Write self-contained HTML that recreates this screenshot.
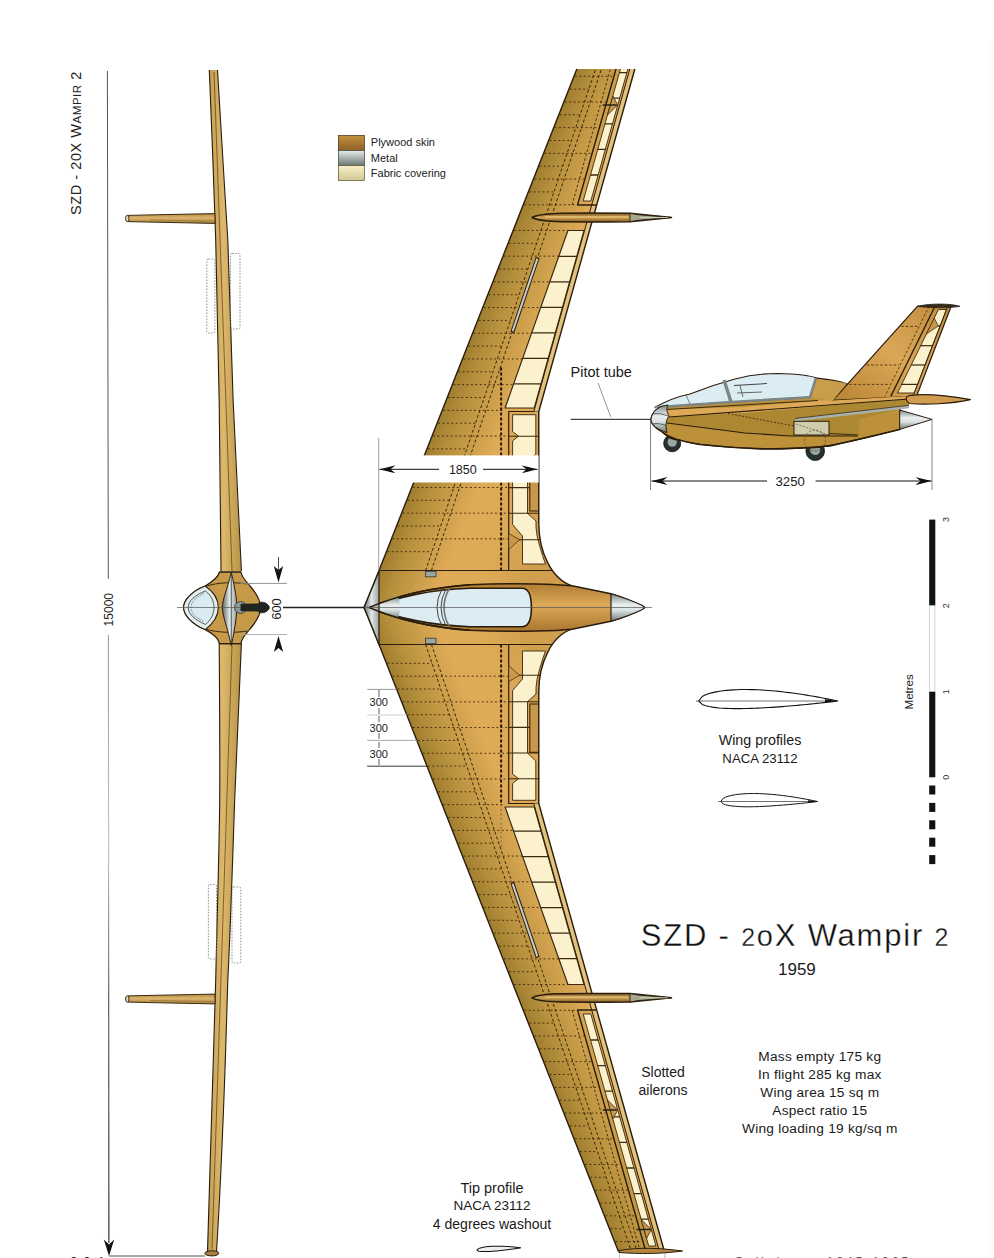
<!DOCTYPE html>
<html><head><meta charset="utf-8"><style>
html,body{margin:0;padding:0;background:#fff;width:994px;height:1258px;overflow:hidden}
svg{display:block;font-family:"Liberation Sans", sans-serif}
</style></head><body>
<svg width="994" height="1258" viewBox="0 0 994 1258" font-family='"Liberation Sans", sans-serif'><defs>
<linearGradient id="gU" gradientUnits="userSpaceOnUse" x1="0" y1="0" x2="150" y2="0" gradientTransform="translate(379,571) skewX(-21.5)">
 <stop offset="0" stop-color="#a07e30"/><stop offset="0.15" stop-color="#b8923e"/><stop offset="0.45" stop-color="#dfab58"/><stop offset="0.75" stop-color="#dca955"/><stop offset="1" stop-color="#d09f4e"/>
</linearGradient>
<linearGradient id="gL" gradientUnits="userSpaceOnUse" x1="0" y1="0" x2="150" y2="0" gradientTransform="translate(379,644) skewX(21.5)">
 <stop offset="0" stop-color="#a07e30"/><stop offset="0.15" stop-color="#b8923e"/><stop offset="0.45" stop-color="#dfab58"/><stop offset="0.75" stop-color="#dca955"/><stop offset="1" stop-color="#d09f4e"/>
</linearGradient>
<linearGradient id="gPod" x1="0" y1="0" x2="0" y2="1">
 <stop offset="0" stop-color="#b07c32"/><stop offset="0.45" stop-color="#dcaa5a"/><stop offset="1" stop-color="#a9762e"/>
</linearGradient>
<linearGradient id="gCone" x1="0" y1="0" x2="0" y2="1">
 <stop offset="0" stop-color="#7f8a89"/><stop offset="0.4" stop-color="#e9eeee"/><stop offset="0.6" stop-color="#dde3e3"/><stop offset="1" stop-color="#6f7a79"/>
</linearGradient>
<linearGradient id="gConeH" x1="0" y1="0" x2="1" y2="0">
 <stop offset="0" stop-color="#5d6867"/><stop offset="0.5" stop-color="#e2e8e8"/><stop offset="1" stop-color="#9aa4a3"/>
</linearGradient>
<linearGradient id="gFrontW" x1="0" y1="0" x2="1" y2="0">
 <stop offset="0" stop-color="#c4a054"/><stop offset="0.45" stop-color="#dcb86c"/><stop offset="1" stop-color="#b89446"/>
</linearGradient>
<linearGradient id="gFrontFin" x1="0" y1="0" x2="0" y2="1">
 <stop offset="0" stop-color="#b08a44"/><stop offset="0.45" stop-color="#dcb46c"/><stop offset="1" stop-color="#a8803c"/>
</linearGradient>
<linearGradient id="gFin" x1="0" y1="0" x2="0" y2="1">
 <stop offset="0" stop-color="#7e5a22"/><stop offset="0.5" stop-color="#d2a456"/><stop offset="1" stop-color="#7e5a22"/>
</linearGradient>
<linearGradient id="gSide" x1="0" y1="0" x2="0" y2="1">
 <stop offset="0" stop-color="#c99548"/><stop offset="0.5" stop-color="#d7a354"/><stop offset="1" stop-color="#b07d34"/>
</linearGradient>
<linearGradient id="gTail" x1="0" y1="1" x2="1" y2="0">
 <stop offset="0" stop-color="#b88434"/><stop offset="0.5" stop-color="#daa758"/><stop offset="1" stop-color="#c08c3e"/>
</linearGradient>
<linearGradient id="lgPly" x1="0" y1="0" x2="0" y2="1"><stop offset="0" stop-color="#c48e3e"/><stop offset="1" stop-color="#8d6226"/></linearGradient>
<linearGradient id="lgMet" x1="0" y1="0" x2="0" y2="1"><stop offset="0" stop-color="#e8eeee"/><stop offset="1" stop-color="#6a7673"/></linearGradient>
<linearGradient id="lgFab" x1="0" y1="0" x2="0" y2="1"><stop offset="0" stop-color="#f7f0cb"/><stop offset="1" stop-color="#d2c690"/></linearGradient>
<marker id="arr" viewBox="0 0 16 8" refX="16" refY="4" markerWidth="16" markerHeight="8" markerUnits="userSpaceOnUse" orient="auto">
 <path d="M0,0 L16,4 L0,8 L5,4 Z" fill="#111"/>
</marker>
<clipPath id="cU"><path d="M364,607.5 L379,570.5 L576.84,69 L634.84,69 L538.8,411.5 L538.8,523.5 C538.8,552.5 552,579.5 572,585.8 L572,607.5 L364,607.5 Z"/></clipPath><clipPath id="cL"><path d="M364,607.5 L379,644.5 L618.26,1251 L664.28,1251 L538.8,803.5 L538.8,691.5 C538.8,662.5 552,635.5 572,629.2 L572,607.5 L364,607.5 Z"/></clipPath><linearGradient id="gDim" gradientUnits="userSpaceOnUse" x1="0" y1="635" x2="0" y2="1243"><stop offset="0" stop-color="#9a9a9a"/><stop offset="0.35" stop-color="#c4c4c4"/><stop offset="0.6" stop-color="#555"/><stop offset="1" stop-color="#222"/></linearGradient></defs><path d="M364,607.5 L379,570.5 L576.84,69 L634.84,69 L538.8,411.5 L538.8,523.5 C538.8,552.5 552,579.5 572,585.8 L572,607.5 L364,607.5 Z" fill="url(#gU)" stroke="none" stroke-width="1" stroke-linejoin="round" />
<g clip-path="url(#cU)">
<line x1="387.42" y1="551.7" x2="432" y2="551.7" stroke="#3e2408" stroke-width="0.9" stroke-dasharray="1.9,2.5" />
<line x1="392.49" y1="538.85" x2="508.7" y2="538.85" stroke="#3e2408" stroke-width="0.9" stroke-dasharray="1.9,2.5" />
<line x1="397.56" y1="526" x2="440.72" y2="526" stroke="#3e2408" stroke-width="0.9" stroke-dasharray="1.9,2.5" />
<line x1="402.62" y1="513.15" x2="508.7" y2="513.15" stroke="#3e2408" stroke-width="0.9" stroke-dasharray="1.9,2.5" />
<line x1="407.69" y1="500.3" x2="449.43" y2="500.3" stroke="#3e2408" stroke-width="0.9" stroke-dasharray="1.9,2.5" />
<line x1="412.76" y1="487.45" x2="508.7" y2="487.45" stroke="#3e2408" stroke-width="0.9" stroke-dasharray="1.9,2.5" />
<line x1="417.83" y1="474.6" x2="458.14" y2="474.6" stroke="#3e2408" stroke-width="0.9" stroke-dasharray="1.9,2.5" />
<line x1="422.9" y1="461.75" x2="508.7" y2="461.75" stroke="#3e2408" stroke-width="0.9" stroke-dasharray="1.9,2.5" />
<line x1="427.97" y1="448.9" x2="466.85" y2="448.9" stroke="#3e2408" stroke-width="0.9" stroke-dasharray="1.9,2.5" />
<line x1="433.04" y1="436.05" x2="508.7" y2="436.05" stroke="#3e2408" stroke-width="0.9" stroke-dasharray="1.9,2.5" />
<line x1="438.11" y1="423.2" x2="475.57" y2="423.2" stroke="#3e2408" stroke-width="0.9" stroke-dasharray="1.9,2.5" />
<line x1="443.18" y1="410.35" x2="504.27" y2="410.35" stroke="#3e2408" stroke-width="0.9" stroke-dasharray="1.9,2.5" />
<line x1="448.25" y1="397.5" x2="484.28" y2="397.5" stroke="#3e2408" stroke-width="0.9" stroke-dasharray="1.9,2.5" />
<line x1="453.32" y1="384.65" x2="513.37" y2="384.65" stroke="#3e2408" stroke-width="0.9" stroke-dasharray="1.9,2.5" />
<line x1="458.39" y1="371.8" x2="492.99" y2="371.8" stroke="#3e2408" stroke-width="0.9" stroke-dasharray="1.9,2.5" />
<line x1="463.46" y1="358.95" x2="522.46" y2="358.95" stroke="#3e2408" stroke-width="0.9" stroke-dasharray="1.9,2.5" />
<line x1="468.53" y1="346.1" x2="501.7" y2="346.1" stroke="#3e2408" stroke-width="0.9" stroke-dasharray="1.9,2.5" />
<line x1="473.6" y1="333.25" x2="531.56" y2="333.25" stroke="#3e2408" stroke-width="0.9" stroke-dasharray="1.9,2.5" />
<line x1="478.66" y1="320.4" x2="510.41" y2="320.4" stroke="#3e2408" stroke-width="0.9" stroke-dasharray="1.9,2.5" />
<line x1="483.73" y1="307.55" x2="540.66" y2="307.55" stroke="#3e2408" stroke-width="0.9" stroke-dasharray="1.9,2.5" />
<line x1="488.8" y1="294.7" x2="519.13" y2="294.7" stroke="#3e2408" stroke-width="0.9" stroke-dasharray="1.9,2.5" />
<line x1="493.87" y1="281.85" x2="549.76" y2="281.85" stroke="#3e2408" stroke-width="0.9" stroke-dasharray="1.9,2.5" />
<line x1="498.94" y1="269" x2="527.84" y2="269" stroke="#3e2408" stroke-width="0.9" stroke-dasharray="1.9,2.5" />
<line x1="504.01" y1="256.15" x2="558.85" y2="256.15" stroke="#3e2408" stroke-width="0.9" stroke-dasharray="1.9,2.5" />
<line x1="509.08" y1="243.3" x2="536.55" y2="243.3" stroke="#3e2408" stroke-width="0.9" stroke-dasharray="1.9,2.5" />
<line x1="514.15" y1="230.45" x2="567.95" y2="230.45" stroke="#3e2408" stroke-width="0.9" stroke-dasharray="1.9,2.5" />
<line x1="524.29" y1="204.75" x2="576.61" y2="204.75" stroke="#3e2408" stroke-width="0.9" stroke-dasharray="1.9,2.5" />
<line x1="529.36" y1="191.9" x2="553.98" y2="191.9" stroke="#3e2408" stroke-width="0.9" stroke-dasharray="1.9,2.5" />
<line x1="534.43" y1="179.05" x2="583.87" y2="179.05" stroke="#3e2408" stroke-width="0.9" stroke-dasharray="1.9,2.5" />
<line x1="539.5" y1="166.2" x2="562.69" y2="166.2" stroke="#3e2408" stroke-width="0.9" stroke-dasharray="1.9,2.5" />
<line x1="544.57" y1="153.35" x2="591.13" y2="153.35" stroke="#3e2408" stroke-width="0.9" stroke-dasharray="1.9,2.5" />
<line x1="549.64" y1="140.5" x2="571.4" y2="140.5" stroke="#3e2408" stroke-width="0.9" stroke-dasharray="1.9,2.5" />
<line x1="554.7" y1="127.65" x2="598.39" y2="127.65" stroke="#3e2408" stroke-width="0.9" stroke-dasharray="1.9,2.5" />
<line x1="559.77" y1="114.8" x2="580.11" y2="114.8" stroke="#3e2408" stroke-width="0.9" stroke-dasharray="1.9,2.5" />
<line x1="564.84" y1="101.95" x2="605.65" y2="101.95" stroke="#3e2408" stroke-width="0.9" stroke-dasharray="1.9,2.5" />
<line x1="569.91" y1="89.1" x2="588.83" y2="89.1" stroke="#3e2408" stroke-width="0.9" stroke-dasharray="1.9,2.5" />
<line x1="574.98" y1="76.25" x2="612.91" y2="76.25" stroke="#3e2408" stroke-width="0.9" stroke-dasharray="1.9,2.5" />
<line x1="425.63" y1="570.5" x2="595.64" y2="69" stroke="#3e2408" stroke-width="1" stroke-dasharray="3,2.2" />
<line x1="431.43" y1="570.5" x2="601.44" y2="69" stroke="#3e2408" stroke-width="1" stroke-dasharray="3,2.2" />
<line x1="501.1" y1="570.5" x2="501.1" y2="365.5" stroke="#2a1606" stroke-width="2" stroke-dasharray="3,2" />
<path d="M508.7,570.5 L508.7,411.5 L538.8,411.5 L538.8,523.5" fill="none" stroke="#2b1d0c" stroke-width="1.2" stroke-linejoin="round" />
<polygon points="522.5,564 545.5,564 542.5,555.5 539.5,545.5 537,535.5 536,527.5 536,521 527.5,513.3 527.5,462 535.8,454 535.8,414.7 512.6,414.7 512.6,431.5 518.5,436.3 512.6,441 512.6,524.5 522.5,536" fill="#fbf1cc" stroke="#3a2810" stroke-width="0.9" stroke-linejoin="round" />
<line x1="508.7" y1="539.7" x2="542" y2="539.7" stroke="#3a2810" stroke-width="1.1" />
<line x1="508.7" y1="513.3" x2="538.8" y2="513.3" stroke="#3a2810" stroke-width="1.1" />
<line x1="508.7" y1="487.6" x2="538.8" y2="487.6" stroke="#3a2810" stroke-width="1.1" />
<line x1="508.7" y1="462" x2="538.8" y2="462" stroke="#3a2810" stroke-width="1.1" />
<line x1="508.7" y1="436.3" x2="538.8" y2="436.3" stroke="#3a2810" stroke-width="1.1" />
<polygon points="508.7,549.5 519.5,539.7 508.7,533.5" fill="#c8984a" stroke="#3a2810" stroke-width="0.7" stroke-linejoin="round" />
<rect x="529.8" y="462.7" width="9.8" height="48.3" fill="#c8984a" stroke="#2b1d0c" stroke-width="1"/>
<polygon points="505.1,408 534.28,408 584.05,230.5 567.94,230.5" fill="#fbf1cc" stroke="#3a2810" stroke-width="1.2" stroke-linejoin="round" />
<line x1="513.67" y1="383.8" x2="541.07" y2="383.8" stroke="#3a2810" stroke-width="1.3" />
<line x1="522.69" y1="358.3" x2="548.22" y2="358.3" stroke="#3a2810" stroke-width="1.3" />
<line x1="531.72" y1="332.8" x2="555.37" y2="332.8" stroke="#3a2810" stroke-width="1.3" />
<line x1="540.75" y1="307.3" x2="562.52" y2="307.3" stroke="#3a2810" stroke-width="1.3" />
<line x1="549.77" y1="281.8" x2="569.67" y2="281.8" stroke="#3a2810" stroke-width="1.3" />
<line x1="558.8" y1="256.3" x2="576.82" y2="256.3" stroke="#3a2810" stroke-width="1.3" />
<polygon points="533.8,411.5 538.8,411.5 634.84,69 629.84,69" fill="#e2c27c" stroke="none" stroke-width="1" stroke-linejoin="round" />
<line x1="533.8" y1="411.5" x2="629.84" y2="69" stroke="#2b1d0c" stroke-width="1" />
<line x1="512.3" y1="332.3" x2="537.7" y2="257.6" stroke="#2b1d0c" stroke-width="4" stroke-linecap="butt"/>
<line x1="512.6" y1="331.3" x2="537.4" y2="258.6" stroke="#c9cfcf" stroke-width="2"/>
<path d="M615.96,69 L577.54,205 L596.7,205" fill="none" stroke="#2b1d0c" stroke-width="1.4" stroke-linejoin="round" />
<line x1="572.04" y1="205" x2="610.46" y2="69" stroke="#3e2408" stroke-width="0.9" stroke-dasharray="2.6,2" />
<polygon points="583.17,201 590.82,201 629.24,64 621.87,64" fill="#fbf1cc" stroke="#3a2810" stroke-width="0.9" stroke-linejoin="round" />
<line x1="590.52" y1="175" x2="598.11" y2="175" stroke="#3a2810" stroke-width="1.3" />
<line x1="597.75" y1="149.4" x2="605.29" y2="149.4" stroke="#3a2810" stroke-width="1.3" />
<line x1="604.98" y1="123.8" x2="612.47" y2="123.8" stroke="#3a2810" stroke-width="1.3" />
<line x1="612.21" y1="98.2" x2="619.65" y2="98.2" stroke="#3a2810" stroke-width="1.3" />
<line x1="619.44" y1="72.6" x2="626.83" y2="72.6" stroke="#3a2810" stroke-width="1.3" />
<polygon points="607.47,115 617.74,105 612.83,96" fill="#c99a4a" stroke="#3a2810" stroke-width="0.8" stroke-linejoin="round" />
<line x1="602.79" y1="105" x2="616.79" y2="105" stroke="#222" stroke-width="1.3" />
<line x1="379" y1="570.5" x2="556" y2="570.5" stroke="#2b1d0c" stroke-width="1.2" />
<rect x="425.4" y="571.3" width="10.6" height="5.5" fill="#9aa6a4" stroke="#3a3a30" stroke-width="0.8"/>
</g>
<path d="M364,607.5 L379,570.5 L576.84,69 M634.84,69 L538.8,411.5 L538.8,523.5 C538.8,552.5 552,579.5 572,585.8" fill="none" stroke="#2b1d0c" stroke-width="1.4" stroke-linejoin="round" />
<path d="M532,217.5 C540,212.9 555,212.7 630,213.3 L671.5,217.5 L630,221.7 C555,222.3 540,222.1 532,217.5 Z" fill="url(#gFin)" stroke="#2b1d0c" stroke-width="1.5" stroke-linejoin="round" />
<path d="M630,213.3 L638,214.7 L671.5,217.5 L638,220.3 L630,221.7 Z" fill="#a6a88e" stroke="#2b1d0c" stroke-width="0.9" stroke-linejoin="round" />
<line x1="545" y1="216.9" x2="628" y2="216.9" stroke="#e6c37e" stroke-width="1.2" />
<line x1="640" y1="217.5" x2="668" y2="217.5" stroke="#d8dccc" stroke-width="0.8" />
<path d="M364,607.5 L379,644.5 L618.26,1251 L664.28,1251 L538.8,803.5 L538.8,691.5 C538.8,662.5 552,635.5 572,629.2 L572,607.5 L364,607.5 Z" fill="url(#gL)" stroke="none" stroke-width="1" stroke-linejoin="round" />
<g clip-path="url(#cL)">
<line x1="387.42" y1="663.3" x2="432" y2="663.3" stroke="#3e2408" stroke-width="0.9" stroke-dasharray="1.9,2.5" />
<line x1="392.49" y1="676.15" x2="508.7" y2="676.15" stroke="#3e2408" stroke-width="0.9" stroke-dasharray="1.9,2.5" />
<line x1="397.56" y1="689" x2="440.72" y2="689" stroke="#3e2408" stroke-width="0.9" stroke-dasharray="1.9,2.5" />
<line x1="402.62" y1="701.85" x2="508.7" y2="701.85" stroke="#3e2408" stroke-width="0.9" stroke-dasharray="1.9,2.5" />
<line x1="407.69" y1="714.7" x2="449.43" y2="714.7" stroke="#3e2408" stroke-width="0.9" stroke-dasharray="1.9,2.5" />
<line x1="412.76" y1="727.55" x2="508.7" y2="727.55" stroke="#3e2408" stroke-width="0.9" stroke-dasharray="1.9,2.5" />
<line x1="417.83" y1="740.4" x2="458.14" y2="740.4" stroke="#3e2408" stroke-width="0.9" stroke-dasharray="1.9,2.5" />
<line x1="422.9" y1="753.25" x2="508.7" y2="753.25" stroke="#3e2408" stroke-width="0.9" stroke-dasharray="1.9,2.5" />
<line x1="427.97" y1="766.1" x2="466.85" y2="766.1" stroke="#3e2408" stroke-width="0.9" stroke-dasharray="1.9,2.5" />
<line x1="433.04" y1="778.95" x2="508.7" y2="778.95" stroke="#3e2408" stroke-width="0.9" stroke-dasharray="1.9,2.5" />
<line x1="438.11" y1="791.8" x2="475.57" y2="791.8" stroke="#3e2408" stroke-width="0.9" stroke-dasharray="1.9,2.5" />
<line x1="443.18" y1="804.65" x2="504.27" y2="804.65" stroke="#3e2408" stroke-width="0.9" stroke-dasharray="1.9,2.5" />
<line x1="448.25" y1="817.5" x2="484.28" y2="817.5" stroke="#3e2408" stroke-width="0.9" stroke-dasharray="1.9,2.5" />
<line x1="453.32" y1="830.35" x2="513.37" y2="830.35" stroke="#3e2408" stroke-width="0.9" stroke-dasharray="1.9,2.5" />
<line x1="458.39" y1="843.2" x2="492.99" y2="843.2" stroke="#3e2408" stroke-width="0.9" stroke-dasharray="1.9,2.5" />
<line x1="463.46" y1="856.05" x2="522.46" y2="856.05" stroke="#3e2408" stroke-width="0.9" stroke-dasharray="1.9,2.5" />
<line x1="468.53" y1="868.9" x2="501.7" y2="868.9" stroke="#3e2408" stroke-width="0.9" stroke-dasharray="1.9,2.5" />
<line x1="473.6" y1="881.75" x2="531.56" y2="881.75" stroke="#3e2408" stroke-width="0.9" stroke-dasharray="1.9,2.5" />
<line x1="478.66" y1="894.6" x2="510.41" y2="894.6" stroke="#3e2408" stroke-width="0.9" stroke-dasharray="1.9,2.5" />
<line x1="483.73" y1="907.45" x2="540.66" y2="907.45" stroke="#3e2408" stroke-width="0.9" stroke-dasharray="1.9,2.5" />
<line x1="488.8" y1="920.3" x2="519.13" y2="920.3" stroke="#3e2408" stroke-width="0.9" stroke-dasharray="1.9,2.5" />
<line x1="493.87" y1="933.15" x2="549.76" y2="933.15" stroke="#3e2408" stroke-width="0.9" stroke-dasharray="1.9,2.5" />
<line x1="498.94" y1="946" x2="527.84" y2="946" stroke="#3e2408" stroke-width="0.9" stroke-dasharray="1.9,2.5" />
<line x1="504.01" y1="958.85" x2="558.85" y2="958.85" stroke="#3e2408" stroke-width="0.9" stroke-dasharray="1.9,2.5" />
<line x1="509.08" y1="971.7" x2="536.55" y2="971.7" stroke="#3e2408" stroke-width="0.9" stroke-dasharray="1.9,2.5" />
<line x1="514.15" y1="984.55" x2="567.95" y2="984.55" stroke="#3e2408" stroke-width="0.9" stroke-dasharray="1.9,2.5" />
<line x1="524.29" y1="1010.25" x2="576.61" y2="1010.25" stroke="#3e2408" stroke-width="0.9" stroke-dasharray="1.9,2.5" />
<line x1="529.36" y1="1023.1" x2="553.98" y2="1023.1" stroke="#3e2408" stroke-width="0.9" stroke-dasharray="1.9,2.5" />
<line x1="534.43" y1="1035.95" x2="583.87" y2="1035.95" stroke="#3e2408" stroke-width="0.9" stroke-dasharray="1.9,2.5" />
<line x1="539.5" y1="1048.8" x2="562.69" y2="1048.8" stroke="#3e2408" stroke-width="0.9" stroke-dasharray="1.9,2.5" />
<line x1="544.57" y1="1061.65" x2="591.13" y2="1061.65" stroke="#3e2408" stroke-width="0.9" stroke-dasharray="1.9,2.5" />
<line x1="549.64" y1="1074.5" x2="571.4" y2="1074.5" stroke="#3e2408" stroke-width="0.9" stroke-dasharray="1.9,2.5" />
<line x1="554.7" y1="1087.35" x2="598.39" y2="1087.35" stroke="#3e2408" stroke-width="0.9" stroke-dasharray="1.9,2.5" />
<line x1="559.77" y1="1100.2" x2="580.11" y2="1100.2" stroke="#3e2408" stroke-width="0.9" stroke-dasharray="1.9,2.5" />
<line x1="564.84" y1="1113.05" x2="605.65" y2="1113.05" stroke="#3e2408" stroke-width="0.9" stroke-dasharray="1.9,2.5" />
<line x1="569.91" y1="1125.9" x2="588.83" y2="1125.9" stroke="#3e2408" stroke-width="0.9" stroke-dasharray="1.9,2.5" />
<line x1="574.98" y1="1138.75" x2="612.91" y2="1138.75" stroke="#3e2408" stroke-width="0.9" stroke-dasharray="1.9,2.5" />
<line x1="580.05" y1="1151.6" x2="597.54" y2="1151.6" stroke="#3e2408" stroke-width="0.9" stroke-dasharray="1.9,2.5" />
<line x1="585.12" y1="1164.45" x2="620.17" y2="1164.45" stroke="#3e2408" stroke-width="0.9" stroke-dasharray="1.9,2.5" />
<line x1="590.19" y1="1177.3" x2="606.25" y2="1177.3" stroke="#3e2408" stroke-width="0.9" stroke-dasharray="1.9,2.5" />
<line x1="595.26" y1="1190.15" x2="627.43" y2="1190.15" stroke="#3e2408" stroke-width="0.9" stroke-dasharray="1.9,2.5" />
<line x1="600.33" y1="1203" x2="614.96" y2="1203" stroke="#3e2408" stroke-width="0.9" stroke-dasharray="1.9,2.5" />
<line x1="605.4" y1="1215.85" x2="634.69" y2="1215.85" stroke="#3e2408" stroke-width="0.9" stroke-dasharray="1.9,2.5" />
<line x1="610.47" y1="1228.7" x2="623.67" y2="1228.7" stroke="#3e2408" stroke-width="0.9" stroke-dasharray="1.9,2.5" />
<line x1="615.54" y1="1241.55" x2="641.95" y2="1241.55" stroke="#3e2408" stroke-width="0.9" stroke-dasharray="1.9,2.5" />
<line x1="425.63" y1="644.5" x2="631.23" y2="1251" stroke="#3e2408" stroke-width="1" stroke-dasharray="3,2.2" />
<line x1="431.43" y1="644.5" x2="637.03" y2="1251" stroke="#3e2408" stroke-width="1" stroke-dasharray="3,2.2" />
<line x1="501.1" y1="644.5" x2="501.1" y2="804.5" stroke="#2a1606" stroke-width="2" stroke-dasharray="3,2" />
<line x1="501.1" y1="804.5" x2="501.1" y2="849.5" stroke="#7a5a2a" stroke-width="0.9" stroke-dasharray="2,2.5" />
<path d="M508.7,644.5 L508.7,803.5 L538.8,803.5 L538.8,691.5" fill="none" stroke="#2b1d0c" stroke-width="1.2" stroke-linejoin="round" />
<polygon points="522.5,651 545.5,651 542.5,659.5 539.5,669.5 537,679.5 536,687.5 536,694 527.5,701.7 527.5,753 535.8,761 535.8,800.3 512.6,800.3 512.6,783.5 518.5,778.7 512.6,774 512.6,690.5 522.5,679" fill="#fbf1cc" stroke="#3a2810" stroke-width="0.9" stroke-linejoin="round" />
<line x1="508.7" y1="675.3" x2="542" y2="675.3" stroke="#3a2810" stroke-width="1.1" />
<line x1="508.7" y1="701.7" x2="538.8" y2="701.7" stroke="#3a2810" stroke-width="1.1" />
<line x1="508.7" y1="727.4" x2="538.8" y2="727.4" stroke="#3a2810" stroke-width="1.1" />
<line x1="508.7" y1="753" x2="538.8" y2="753" stroke="#3a2810" stroke-width="1.1" />
<line x1="508.7" y1="778.7" x2="538.8" y2="778.7" stroke="#3a2810" stroke-width="1.1" />
<polygon points="508.7,665.5 519.5,675.3 508.7,681.5" fill="#c8984a" stroke="#3a2810" stroke-width="0.7" stroke-linejoin="round" />
<rect x="529.8" y="704" width="9.8" height="48.3" fill="#c8984a" stroke="#2b1d0c" stroke-width="1"/>
<polygon points="505.1,807 534.28,807 584.05,984.5 567.94,984.5" fill="#fbf1cc" stroke="#3a2810" stroke-width="1.2" stroke-linejoin="round" />
<line x1="513.67" y1="831.2" x2="541.07" y2="831.2" stroke="#3a2810" stroke-width="1.3" />
<line x1="522.69" y1="856.7" x2="548.22" y2="856.7" stroke="#3a2810" stroke-width="1.3" />
<line x1="531.72" y1="882.2" x2="555.37" y2="882.2" stroke="#3a2810" stroke-width="1.3" />
<line x1="540.75" y1="907.7" x2="562.52" y2="907.7" stroke="#3a2810" stroke-width="1.3" />
<line x1="549.77" y1="933.2" x2="569.67" y2="933.2" stroke="#3a2810" stroke-width="1.3" />
<line x1="558.8" y1="958.7" x2="576.82" y2="958.7" stroke="#3a2810" stroke-width="1.3" />
<polygon points="533.8,803.5 538.8,803.5 664.28,1251 659.28,1251" fill="#e2c27c" stroke="none" stroke-width="1" stroke-linejoin="round" />
<line x1="533.8" y1="803.5" x2="659.28" y2="1251" stroke="#2b1d0c" stroke-width="1" />
<line x1="512.3" y1="882.7" x2="537.7" y2="957.4" stroke="#2b1d0c" stroke-width="4" stroke-linecap="butt"/>
<line x1="512.6" y1="883.7" x2="537.4" y2="956.4" stroke="#c9cfcf" stroke-width="2"/>
<path d="M645.62,1251 L577.54,1010 L596.7,1010" fill="none" stroke="#2b1d0c" stroke-width="1.4" stroke-linejoin="round" />
<line x1="572.04" y1="1010" x2="640.12" y2="1251" stroke="#3e2408" stroke-width="0.9" stroke-dasharray="2.6,2" />
<polygon points="583.17,1014 590.82,1014 655.88,1246 648.71,1246" fill="#fbf1cc" stroke="#3a2810" stroke-width="0.9" stroke-linejoin="round" />
<line x1="590.52" y1="1040" x2="598.11" y2="1040" stroke="#3a2810" stroke-width="1.3" />
<line x1="597.75" y1="1065.6" x2="605.29" y2="1065.6" stroke="#3a2810" stroke-width="1.3" />
<line x1="604.98" y1="1091.2" x2="612.47" y2="1091.2" stroke="#3a2810" stroke-width="1.3" />
<line x1="612.21" y1="1116.8" x2="619.65" y2="1116.8" stroke="#3a2810" stroke-width="1.3" />
<line x1="619.44" y1="1142.4" x2="626.83" y2="1142.4" stroke="#3a2810" stroke-width="1.3" />
<line x1="626.68" y1="1168" x2="634.01" y2="1168" stroke="#3a2810" stroke-width="1.3" />
<line x1="633.91" y1="1193.6" x2="641.18" y2="1193.6" stroke="#3a2810" stroke-width="1.3" />
<line x1="641.14" y1="1219.2" x2="648.36" y2="1219.2" stroke="#3a2810" stroke-width="1.3" />
<polygon points="607.47,1100 617.74,1110 612.83,1119" fill="#c99a4a" stroke="#3a2810" stroke-width="0.8" stroke-linejoin="round" />
<line x1="602.79" y1="1110" x2="616.79" y2="1110" stroke="#222" stroke-width="1.3" />
<polygon points="641.23,1219.5 651.25,1229.5 646.59,1238.5" fill="#c99a4a" stroke="#3a2810" stroke-width="0.8" stroke-linejoin="round" />
<line x1="636.55" y1="1229.5" x2="650.55" y2="1229.5" stroke="#222" stroke-width="1.3" />
<line x1="379" y1="644.5" x2="556" y2="644.5" stroke="#2b1d0c" stroke-width="1.2" />
<rect x="425.4" y="638.2" width="10.6" height="5.5" fill="#9aa6a4" stroke="#3a3a30" stroke-width="0.8"/>
</g>
<path d="M364,607.5 L379,644.5 L618.26,1251 L664.28,1251 L538.8,803.5 L538.8,691.5 C538.8,662.5 552,635.5 572,629.2 L572,607.5 L364,607.5 Z" fill="none" stroke="#2b1d0c" stroke-width="1.4" stroke-linejoin="round" />
<path d="M532,997.8 C540,993.2 555,993 630,993.6 L671.5,997.8 L630,1002 C555,1002.6 540,1002.4 532,997.8 Z" fill="url(#gFin)" stroke="#2b1d0c" stroke-width="1.5" stroke-linejoin="round" />
<path d="M630,993.6 L638,995 L671.5,997.8 L638,1000.6 L630,1002 Z" fill="#a6a88e" stroke="#2b1d0c" stroke-width="0.9" stroke-linejoin="round" />
<line x1="545" y1="997.2" x2="628" y2="997.2" stroke="#e6c37e" stroke-width="1.2" />
<line x1="640" y1="997.8" x2="668" y2="997.8" stroke="#d8dccc" stroke-width="0.8" />
<path d="M369,607.5 C400,594.5 430,587.5 470,584.7 C520,582.5 560,584.5 572,585.8 L611,593.7 Q630,599.5 644,607.5 Q630,615.5 611,621.3 L572,629.2 C560,630.5 520,632.5 470,630.3 C430,627.5 400,620.5 369,607.5 Z" fill="url(#gPod)" stroke="#2b1d0c" stroke-width="1.5" stroke-linejoin="round" />
<path d="M611,593.7 Q630,599.5 642,605.3 L645,607.5 L642,609.7 Q630,615.5 611,621.3 Z" fill="url(#gCone)" stroke="#2b1d0c" stroke-width="1.2" stroke-linejoin="round" />
<path d="M372.5,607.5 C395,597.5 430,589.5 470,588.3 L522,588.3 Q531.4,588.3 531.4,607.5 Q531.4,626.7 522,626.7 L470,626.7 C430,625.5 395,617.5 372.5,607.5 Z" fill="#dcecf3" stroke="#2b1d0c" stroke-width="1.6" stroke-linejoin="round" />
<path d="M372.5,607.5 C385,601.5 392,597.5 398,596 Q402,607.5 398,619 C392,617.5 385,613.5 372.5,607.5 Z" fill="url(#gCone)" stroke="none" stroke-width="0" stroke-linejoin="round" />
<path d="M442,589 Q432,607.5 442,626" fill="none" stroke="#444" stroke-width="1" stroke-linejoin="round" />
<path d="M446,589 Q436,607.5 446,626" fill="none" stroke="#444" stroke-width="1" stroke-linejoin="round" />
<path d="M449,589 Q439,607.5 449,626" fill="none" stroke="#6d7775" stroke-width="1.6" stroke-linejoin="round" />
<path d="M364,607.5 C370,593.5 375,581.5 379,571.1 L379,645 C375,633.5 370,621.5 364,607.5 Z" fill="url(#gConeH)" stroke="#2b1d0c" stroke-width="1.2" stroke-linejoin="round" />
<path d="M369,607.5 C400,594.5 430,587.5 470,584.7" fill="none" stroke="#2b1d0c" stroke-width="1.5" stroke-linejoin="round" />
<path d="M369,607.5 C400,620.5 430,627.5 470,630.3" fill="none" stroke="#2b1d0c" stroke-width="1.5" stroke-linejoin="round" />
<line x1="283" y1="607.5" x2="364" y2="607.5" stroke="#222" stroke-width="1.3" />
<line x1="364" y1="607.5" x2="652" y2="607.5" stroke="#555" stroke-width="0.7" />
<rect x="380" y="455.4" width="158.3" height="27.1" fill="#fff"/>
<line x1="378.7" y1="438" x2="378.7" y2="571" stroke="#888" stroke-width="0.8" />
<line x1="538.6" y1="455.4" x2="538.6" y2="482.5" stroke="#bbb" stroke-width="0.8" />
<line x1="439" y1="469.3" x2="379.5" y2="469.3" stroke="#111" stroke-width="1" marker-end="url(#arr)"/>
<line x1="483" y1="469.3" x2="537.5" y2="469.3" stroke="#111" stroke-width="1" marker-end="url(#arr)"/>
<text x="462.8" y="474.2" font-size="12.5" text-anchor="middle" fill="#1a1a1a" >1850</text>
<line x1="367.2" y1="689.4" x2="396.71" y2="689.4" stroke="#999" stroke-width="1" />
<line x1="367.2" y1="715" x2="406.81" y2="715" stroke="#ccc" stroke-width="1" />
<line x1="367.2" y1="740.4" x2="416.83" y2="740.4" stroke="#aaa" stroke-width="1" />
<line x1="367.2" y1="766.2" x2="427.01" y2="766.2" stroke="#333" stroke-width="1" />
<text x="378.8" y="706" font-size="11" text-anchor="middle" fill="#1a1a1a" >300</text>
<text x="378.8" y="731.5" font-size="11" text-anchor="middle" fill="#1a1a1a" >300</text>
<text x="378.8" y="757.5" font-size="11" text-anchor="middle" fill="#1a1a1a" >300</text>
<line x1="379" y1="690" x2="379" y2="697" stroke="#333" stroke-width="0.8" />
<line x1="379" y1="708" x2="379" y2="714" stroke="#333" stroke-width="0.8" />
<line x1="379" y1="716" x2="379" y2="722" stroke="#333" stroke-width="0.8" />
<line x1="379" y1="733" x2="379" y2="739" stroke="#333" stroke-width="0.8" />
<line x1="379" y1="742" x2="379" y2="748" stroke="#333" stroke-width="0.8" />
<line x1="379" y1="759" x2="379" y2="765" stroke="#333" stroke-width="0.8" />
<line x1="107.4" y1="71" x2="108.3" y2="578.7" stroke="#555" stroke-width="1" />
<path d="M108.4,635.1 L108.9,1243" stroke="url(#gDim)" stroke-width="1.1" fill="none"/>
<path d="M109,1256 L103.8,1239.5 L109,1244.5 L114.2,1239.5 Z" fill="#111" stroke="none" stroke-width="1" stroke-linejoin="round" />
<line x1="109" y1="1256" x2="205" y2="1256" stroke="#555" stroke-width="1" />
<text x="0" y="0" font-size="12" text-anchor="middle" fill="#222" transform="translate(112.8,609.7) rotate(-90)">15000</text>
<path d="M209.3,70 L217.5,70 C220,110 224,180 227.8,240 C230,300 232,360 233.2,402 C236,470 239,530 241.4,571 L221,571 C220.5,500 220,450 219.2,402 C218,330 216.5,280 215.7,240 C214,190 211.5,120 209.3,70 Z" fill="url(#gFrontW)" stroke="none" stroke-width="1" stroke-linejoin="round" />
<path d="M217.5,70 C220,110 224,180 227.8,240 C230,300 232,360 233.2,402 C236,470 239,530 241.4,571 M221,571 C220.5,500 220,450 219.2,402 C218,330 216.5,280 215.7,240 C214,190 211.5,120 209.3,70" fill="none" stroke="#2b1d0c" stroke-width="1.1" stroke-linejoin="round" />
<line x1="214" y1="72" x2="232" y2="571" stroke="#5a3a10" stroke-width="0.7" />
<path d="M219.2,643.5 L241.4,643.5 C239,700 236,760 234.6,802 C232,880 230,940 227.8,980 C225,1080 221,1180 216.5,1252 L207.5,1252 C210,1170 213,1080 215.7,980 C217,920 219,860 219.7,802 C220,740 219.5,690 219.2,645 Z" fill="url(#gFrontW)" stroke="#2b1d0c" stroke-width="1.1" stroke-linejoin="round" />
<line x1="232" y1="645" x2="212" y2="1249" stroke="#5a3a10" stroke-width="0.7" />
<ellipse cx="211.8" cy="1253.3" rx="7" ry="2.6" fill="#a88040" stroke="#2b1d0c" stroke-width="1"/>
<path d="M128,215.4 L150,214.9 L215,213.6 L215,223.4 L150,222.1 L128,221.6 Z" fill="url(#gFrontFin)" stroke="#3a2a10" stroke-width="1" stroke-linejoin="round" />
<ellipse cx="127.3" cy="218.5" rx="1.7" ry="3.2" fill="#e8dcc0" stroke="#2b1d0c" stroke-width="0.9"/>
<line x1="150" y1="220" x2="213" y2="221" stroke="#8a6a30" stroke-width="0.6" />
<path d="M128,995.9 L150,995.4 L215,994.1 L215,1003.9 L150,1002.6 L128,1002.1 Z" fill="url(#gFrontFin)" stroke="#3a2a10" stroke-width="1" stroke-linejoin="round" />
<ellipse cx="127.3" cy="999" rx="1.7" ry="3.2" fill="#e8dcc0" stroke="#2b1d0c" stroke-width="0.9"/>
<line x1="150" y1="1000.5" x2="213" y2="1001.5" stroke="#8a6a30" stroke-width="0.6" />
<rect x="206.8" y="259" width="8.1" height="74" rx="1.5" fill="none" stroke="#777" stroke-width="0.8" stroke-dasharray="1.6,1.4"/>
<rect x="230.5" y="253.5" width="9.5" height="75.5" rx="1.5" fill="none" stroke="#777" stroke-width="0.8" stroke-dasharray="1.6,1.4"/>
<rect x="208.4" y="884.6" width="8.1" height="74.4" rx="1.5" fill="none" stroke="#777" stroke-width="0.8" stroke-dasharray="1.6,1.4"/>
<rect x="232" y="887" width="8.8" height="76" rx="1.5" fill="none" stroke="#777" stroke-width="0.8" stroke-dasharray="1.6,1.4"/>
<path d="M219.5,572 L241,572 C242,578 246,581 250,586 C257,594 260.5,601 260.5,607.5 C260.5,614 257,621 250,629 C246,634 242,637 241,643.5 L219.5,643.5 C218,637 212,633 205.2,629.6 C192,624 183.6,615 183.6,607.5 C183.6,600 192,591 205.2,586 C212,582 218,578 219.5,572 Z" fill="#c69a48" stroke="#2b1d0c" stroke-width="1.2" stroke-linejoin="round" />
<path d="M205,586.5 C218,582 235,582 247,584" fill="none" stroke="#2b1d0c" stroke-width="0.9" stroke-linejoin="round" />
<path d="M205,629 C218,633 235,633 247,631" fill="none" stroke="#2b1d0c" stroke-width="0.9" stroke-linejoin="round" />
<path d="M205.2,586 C192,591 183.6,600 183.6,607.5 C183.6,615 192,624 205.2,629.6 C214,623 218.3,615 218.3,607.5 C218.3,600 214,592 205.2,586 Z" fill="#e4eeee" stroke="#2b1d0c" stroke-width="1.1" stroke-linejoin="round" />
<path d="M205.5,591 C195,595 188.2,601 188.2,607.5 C188.2,614 195,620 205.5,624.5 C212,619 214,613 214,607.5 C214,602 212,596 205.5,591 Z" fill="#d9eaf1" stroke="#4f5c5c" stroke-width="1" stroke-linejoin="round" />
<path d="M204,593.5 C196,597 191,602 191,607.5 C191,613 196,618 204,621.5" fill="none" stroke="#6b7878" stroke-width="0.9" stroke-linejoin="round" stroke-dasharray="1.5,1.2"/>
<path d="M231.3,572.5 C227,590 222.3,600 222.3,607.5 C222.3,615 227,626 231.3,645.5 C235.5,626 236.8,615 236.8,607.5 C236.8,600 235.5,590 231.3,572.5 Z" fill="url(#gConeH)" stroke="#2b1d0c" stroke-width="1" stroke-linejoin="round" />
<line x1="231.3" y1="574" x2="231.3" y2="644" stroke="#3a4040" stroke-width="0.8" />
<circle cx="240.6" cy="607.5" r="6" fill="#8e9898" stroke="#333" stroke-width="0.8"/>
<path d="M241,604.2 L258,604 C260,601.5 263,602 265.5,603 C268,604.5 269.3,606 269.3,607.5 C269.3,609 268,610.5 265.5,612 C263,613 260,613.5 258,611 L241,610.8 Z" fill="#1f2622" stroke="#111" stroke-width="0.8" stroke-linejoin="round" />
<line x1="177" y1="607.5" x2="241" y2="607.5" stroke="#555" stroke-width="0.7" />
<line x1="219.5" y1="572" x2="241.2" y2="572" stroke="#2b1d0c" stroke-width="1.2" />
<line x1="219.3" y1="643.8" x2="241.3" y2="643.8" stroke="#2b1d0c" stroke-width="1.2" />
<line x1="240" y1="583.4" x2="287" y2="583.4" stroke="#888" stroke-width="0.9" />
<line x1="240" y1="634.5" x2="287" y2="634.5" stroke="#aaa" stroke-width="0.9" />
<path d="M278.5,582.5 L273.8,566 L278.5,570 L283.2,566 Z" fill="#111" stroke="none" stroke-width="1" stroke-linejoin="round" />
<line x1="278.5" y1="557" x2="278.5" y2="572" stroke="#333" stroke-width="0.9" />
<path d="M278.5,636 L273.8,652 L278.5,648 L283.2,652 Z" fill="#111" stroke="none" stroke-width="1" stroke-linejoin="round" />
<text x="0" y="0" font-size="13" text-anchor="middle" fill="#222" transform="translate(281,609) rotate(-90)">600</text>
<text x="0" y="0" font-size="14.5" text-anchor="middle" fill="#222" transform="translate(81.3,143) rotate(-90)" letter-spacing="0.55">SZD - 20X W<tspan font-size="11.5">AMPIR</tspan> 2</text>
<rect x="338.4" y="135.6" width="26" height="14.8" fill="url(#lgPly)" stroke="#3a2a10" stroke-width="0.7"/>
<rect x="338.4" y="150.4" width="26" height="15.2" fill="url(#lgMet)" stroke="#3a3a30" stroke-width="0.7"/>
<rect x="338.4" y="165.6" width="26" height="15" fill="url(#lgFab)" stroke="#5a5030" stroke-width="0.7"/>
<text x="370.8" y="146.1" font-size="11" text-anchor="start" fill="#222" >Plywood skin</text>
<text x="370.8" y="161.9" font-size="11" text-anchor="start" fill="#222" >Metal</text>
<text x="370.8" y="177.1" font-size="11" text-anchor="start" fill="#222" >Fabric covering</text>
<line x1="570.6" y1="419.4" x2="652" y2="419.4" stroke="#444" stroke-width="1.2" />
<line x1="598" y1="383" x2="610.7" y2="416.7" stroke="#666" stroke-width="0.7" />
<text x="570.6" y="376.6" font-size="14.5" text-anchor="start" fill="#1a1a1a" >Pitot tube</text>
<line x1="650.5" y1="419" x2="650.5" y2="490" stroke="#666" stroke-width="0.8" />
<line x1="932" y1="419" x2="932" y2="490" stroke="#666" stroke-width="0.8" />
<line x1="767" y1="481" x2="651.5" y2="481" stroke="#111" stroke-width="1" marker-end="url(#arr)"/>
<line x1="815.6" y1="481" x2="931.5" y2="481" stroke="#111" stroke-width="1" marker-end="url(#arr)"/>
<text x="790.2" y="485.7" font-size="13.2" text-anchor="middle" fill="#1a1a1a" >3250</text>
<circle cx="672.2" cy="443.3" r="8.5" fill="#26322e" stroke="#111" stroke-width="0.8"/>
<circle cx="672.2" cy="442.1" r="4.68" fill="#9aa6a2"/>
<circle cx="815.2" cy="451.2" r="9.3" fill="#26322e" stroke="#111" stroke-width="0.8"/>
<circle cx="815.2" cy="450" r="5.12" fill="#9aa6a2"/>
<path d="M651,419.4 C652,412 657,407.5 667,405 L728.5,402.2 L810,397.2 L815,378 C828,379.5 838,381 846,383.5 L860,392 L900,405 L900,429.4 C870,437 840,445 815,447.5 C780,449.5 740,449 700,444.5 C682,441.5 668,437 662,432 C655,428 651,424 651,419.4 Z" fill="#bc913a" stroke="#2b1d0c" stroke-width="1.3" stroke-linejoin="round" />
<path d="M832.9,400.4 L917.4,306.3 L951.2,306.3 L916.6,396 Z" fill="url(#gTail)" stroke="#2b1d0c" stroke-width="1.2" stroke-linejoin="round" />
<polygon points="938.43,309.5 946.47,309.5 914.26,393 897.47,393" fill="#fbf1cc" stroke="#3a2810" stroke-width="0.9" stroke-linejoin="round" />
<line x1="930.34" y1="326" x2="940.1" y2="326" stroke="#3a2810" stroke-width="1.2" />
<line x1="920.67" y1="345.7" x2="932.5" y2="345.7" stroke="#3a2810" stroke-width="1.2" />
<line x1="911.2" y1="365" x2="925.06" y2="365" stroke="#3a2810" stroke-width="1.2" />
<line x1="901.69" y1="384.4" x2="917.57" y2="384.4" stroke="#3a2810" stroke-width="1.2" />
<polygon points="934.26,318 938.34,326 926.41,334" fill="#c8964a" stroke="#3a2810" stroke-width="0.7" stroke-linejoin="round" />
<line x1="935" y1="306.3" x2="890.8" y2="396.4" stroke="#2b1d0c" stroke-width="1.3" />
<line x1="947.7" y1="306.3" x2="913.1" y2="396" stroke="#2b1d0c" stroke-width="0.8" />
<line x1="901.35" y1="326.4" x2="918.14" y2="326.4" stroke="#3e2408" stroke-width="0.8" stroke-dasharray="2.5,2" />
<line x1="866.69" y1="365" x2="899.2" y2="365" stroke="#3e2408" stroke-width="0.8" stroke-dasharray="2.5,2" />
<line x1="849.27" y1="384.4" x2="889.69" y2="384.4" stroke="#3e2408" stroke-width="0.8" stroke-dasharray="2.5,2" />
<line x1="929" y1="306.3" x2="884.8" y2="396.4" stroke="#3e2408" stroke-width="0.8" stroke-dasharray="2.5,2" />
<path d="M917.4,306.3 C930,303.3 950,303.3 960,306.3 C950,308.2 930,308.2 917.4,306.3 Z" fill="#3a2a14" stroke="#222" stroke-width="0.8" stroke-linejoin="round" />
<path d="M665,409.6 L745,407 L818,400.5 L833,400.4 L909,396 L909,399 L745,413 L669,417 C666,414 665,411 665,409.6 Z" fill="#dea957" stroke="none" stroke-width="1" stroke-linejoin="round" />
<path d="M669,417 L745,413 L909,399 L909,407 L860,419 L858,436 L790,436 L745,433 L667,423 Z" fill="#ac8832" stroke="none" stroke-width="1" stroke-linejoin="round" />
<line x1="665" y1="409.6" x2="818" y2="400.5" stroke="#2b1d0c" stroke-width="0.9" />
<line x1="669" y1="417" x2="909" y2="399" stroke="#2b1d0c" stroke-width="1.1" />
<path d="M667,423 L745,433 L790,436 L858,436" fill="none" stroke="#2b1d0c" stroke-width="1.1" stroke-linejoin="round" />
<line x1="728" y1="413.5" x2="794" y2="426" stroke="#4a2a08" stroke-width="0.9" stroke-dasharray="2,1.6" />
<line x1="795" y1="420" x2="909" y2="406.8" stroke="#a9b1ad" stroke-width="3" />
<line x1="795" y1="418.5" x2="909" y2="405.3" stroke="#2b1d0c" stroke-width="0.7" />
<path d="M815.5,378.5 C828,380 838,381.5 846.6,383.5 L833,400.4 L810,397.2 Z" fill="#c99e4a" stroke="none" stroke-width="1" stroke-linejoin="round" />
<path d="M655,407.3 C668,400 680,396 690,394 C705,388 720,383 735,379 C750,375 762,373.5 777,373.5 C795,374 812,376 816,378 L810,397.2 L728.5,402.2 Z" fill="#dcecf3" stroke="#2b1d0c" stroke-width="1.2" stroke-linejoin="round" />
<path d="M724,380 L731,402" fill="none" stroke="#7d8787" stroke-width="3.4" stroke-linejoin="round" />
<path d="M816,378 L810,397.2 L728.5,402.2 L655,407.3" fill="none" stroke="#7d8686" stroke-width="2.6" stroke-linejoin="round" />
<line x1="734" y1="385.5" x2="767" y2="383.5" stroke="#444" stroke-width="1.1" />
<line x1="737" y1="393" x2="762" y2="392" stroke="#444" stroke-width="0.8" />
<line x1="740" y1="385.5" x2="743" y2="397" stroke="#444" stroke-width="0.8" />
<line x1="686" y1="395" x2="690" y2="404" stroke="#555" stroke-width="0.7" />
<path d="M909.3,395.6 C925,393 950,396 970.5,399.6 C950,404 925,405 909.3,403.5 C905,400 905,397 909.3,395.6 Z" fill="#d09c50" stroke="#2b1d0c" stroke-width="1.1" stroke-linejoin="round" />
<path d="M899.7,410 L932,419.4 L899.7,429.4 Z" fill="url(#gCone)" stroke="#2b1d0c" stroke-width="1" stroke-linejoin="round" />
<path d="M651,419.4 C652,412 657,406.5 668,405 C666,408 667,412 669,416 C666,420 665,426 667,432.5 C658,430 651,425 651,419.4 Z" fill="url(#gCone)" stroke="#2b1d0c" stroke-width="1" stroke-linejoin="round" />
<path d="M653,414 C658,413 663,414 668,416" fill="none" stroke="#3a4444" stroke-width="0.8" stroke-linejoin="round" />
<path d="M652.5,424 C657,423 662,424 666,425.5" fill="none" stroke="#3a4444" stroke-width="0.8" stroke-linejoin="round" />
<rect x="794" y="421.3" width="35" height="13.7" fill="#cfcdab" stroke="#2b1d0c" stroke-width="1"/>
<line x1="796" y1="424" x2="826" y2="434" stroke="#5a5a40" stroke-width="0.7" stroke-dasharray="2,1.6" />
<line x1="829" y1="433.5" x2="858" y2="435" stroke="#3a2a10" stroke-width="1" />
<path d="M663,432.5 C668,438 674,440 680,440 C690,444 720,447 760,449 C780,449.5 800,448.5 830,446 L900,429.4" fill="none" stroke="#2b1d0c" stroke-width="1.3" stroke-linejoin="round" />
<circle cx="815" cy="440.5" r="10.5" fill="none" stroke="#5a3a10" stroke-width="0.7" stroke-dasharray="2,1.6"/>
<rect x="929.2" y="519.6" width="6.1" height="86.1" fill="#111"/>
<rect x="929.6" y="605.7" width="5.3" height="86.1" fill="#fff" stroke="#bbb" stroke-width="0.6"/>
<rect x="929.2" y="691.8" width="6.1" height="85.5" fill="#111"/>
<rect x="929.2" y="785.5" width="6.1" height="9" fill="#111"/>
<rect x="929.2" y="802.9" width="6.1" height="9" fill="#111"/>
<rect x="929.2" y="820.3" width="6.1" height="9" fill="#111"/>
<rect x="929.2" y="837.7" width="6.1" height="9" fill="#111"/>
<rect x="929.2" y="855.1" width="6.1" height="9" fill="#111"/>
<text x="0" y="0" font-size="9" text-anchor="middle" fill="#333" transform="translate(948.5,519.6) rotate(-90)">3</text>
<text x="0" y="0" font-size="9" text-anchor="middle" fill="#333" transform="translate(948.5,605.7) rotate(-90)">2</text>
<text x="0" y="0" font-size="9" text-anchor="middle" fill="#333" transform="translate(948.5,691.8) rotate(-90)">1</text>
<text x="0" y="0" font-size="9" text-anchor="middle" fill="#333" transform="translate(948.5,777.3) rotate(-90)">0</text>
<text x="0" y="0" font-size="11.5" text-anchor="middle" fill="#222" transform="translate(912.6,691.8) rotate(-90)">Metres</text>
<path d="M698.7,701 L702.18,696.48 L705.65,694.77 L709.12,693.56 L712.6,692.62 L716.08,691.87 L719.55,691.27 L723.03,690.78 L726.5,690.38 L729.98,690.08 L733.45,689.84 L736.93,689.68 L740.4,689.57 L743.88,689.52 L747.35,689.53 L750.83,689.58 L754.3,689.67 L757.78,689.81 L761.25,689.99 L764.73,690.2 L768.2,690.45 L771.68,690.74 L775.15,691.05 L778.62,691.4 L782.1,691.78 L785.58,692.18 L789.05,692.61 L792.53,693.07 L796,693.55 L799.48,694.05 L802.95,694.58 L806.43,695.13 L809.9,695.7 L813.38,696.29 L816.85,696.91 L820.33,697.54 L823.8,698.19 L827.28,698.86 L830.75,699.56 L834.23,700.27 L837.7,701 L837.7,701 L834.23,701.44 L830.75,701.86 L827.28,702.27 L823.8,702.66 L820.33,703.05 L816.85,703.42 L813.38,703.78 L809.9,704.13 L806.43,704.47 L802.95,704.8 L799.48,705.12 L796,705.43 L792.53,705.73 L789.05,706.03 L785.58,706.31 L782.1,706.58 L778.62,706.84 L775.15,707.09 L771.68,707.33 L768.2,707.55 L764.73,707.75 L761.25,707.94 L757.78,708.11 L754.3,708.26 L750.83,708.39 L747.35,708.5 L743.88,708.57 L740.4,708.61 L736.93,708.62 L733.45,708.59 L729.98,708.51 L726.5,708.38 L723.03,708.19 L719.55,707.93 L716.08,707.58 L712.6,707.12 L709.12,706.51 L705.65,705.69 L702.18,704.47 L698.7,701 Z" fill="none" stroke="#111" stroke-width="1.1" stroke-linejoin="round" />
<line x1="696" y1="701" x2="836" y2="701" stroke="#333" stroke-width="0.7" />
<path d="M825,699.2 L838,701 L825,702.6 Z" fill="#111" stroke="none" stroke-width="1" stroke-linejoin="round" />
<path d="M720.8,801.5 L723.22,798.35 L725.63,797.16 L728.05,796.32 L730.47,795.67 L732.89,795.15 L735.3,794.73 L737.72,794.39 L740.14,794.11 L742.56,793.9 L744.97,793.74 L747.39,793.62 L749.81,793.55 L752.23,793.52 L754.64,793.52 L757.06,793.55 L759.48,793.62 L761.9,793.72 L764.31,793.84 L766.73,793.99 L769.15,794.16 L771.57,794.36 L773.99,794.58 L776.4,794.82 L778.82,795.08 L781.24,795.36 L783.65,795.66 L786.07,795.98 L788.49,796.32 L790.91,796.67 L793.33,797.03 L795.74,797.42 L798.16,797.81 L800.58,798.23 L803,798.65 L805.41,799.09 L807.83,799.55 L810.25,800.01 L812.66,800.5 L815.08,800.99 L817.5,801.5 L817.5,801.5 L815.08,801.8 L812.66,802.1 L810.25,802.38 L807.83,802.66 L805.41,802.92 L803,803.18 L800.58,803.43 L798.16,803.68 L795.74,803.91 L793.33,804.14 L790.91,804.37 L788.49,804.58 L786.07,804.79 L783.65,805 L781.24,805.19 L778.82,805.38 L776.4,805.56 L773.99,805.74 L771.57,805.9 L769.15,806.05 L766.73,806.2 L764.31,806.33 L761.9,806.45 L759.48,806.55 L757.06,806.64 L754.64,806.71 L752.23,806.77 L749.81,806.8 L747.39,806.8 L744.97,806.78 L742.56,806.73 L740.14,806.64 L737.72,806.5 L735.3,806.32 L732.89,806.08 L730.47,805.76 L728.05,805.34 L725.63,804.76 L723.22,803.91 L720.8,801.5 Z" fill="none" stroke="#111" stroke-width="1" stroke-linejoin="round" />
<line x1="718" y1="801.5" x2="816" y2="801.5" stroke="#333" stroke-width="0.7" />
<path d="M808,800.2 L818,801.5 L808,802.8 Z" fill="#111" stroke="none" stroke-width="1" stroke-linejoin="round" />
<path d="M477,1249 L478.1,1247.81 L479.2,1247.35 L480.3,1247.03 L481.4,1246.78 L482.5,1246.57 L483.6,1246.41 L484.7,1246.27 L485.8,1246.17 L486.9,1246.08 L488,1246.01 L489.1,1245.96 L490.2,1245.93 L491.3,1245.92 L492.4,1245.91 L493.5,1245.92 L494.6,1245.95 L495.7,1245.98 L496.8,1246.03 L497.9,1246.08 L499,1246.15 L500.1,1246.22 L501.2,1246.3 L502.3,1246.4 L503.4,1246.5 L504.5,1246.61 L505.6,1246.72 L506.7,1246.84 L507.8,1246.97 L508.9,1247.11 L510,1247.25 L511.1,1247.4 L512.2,1247.56 L513.3,1247.72 L514.4,1247.89 L515.5,1248.06 L516.6,1248.24 L517.7,1248.42 L518.8,1248.61 L519.9,1248.8 L521,1249 L521,1249 L519.9,1249.11 L518.8,1249.22 L517.7,1249.32 L516.6,1249.43 L515.5,1249.52 L514.4,1249.62 L513.3,1249.71 L512.2,1249.8 L511.1,1249.89 L510,1249.97 L508.9,1250.06 L507.8,1250.14 L506.7,1250.21 L505.6,1250.29 L504.5,1250.36 L503.4,1250.43 L502.3,1250.5 L501.2,1250.57 L500.1,1250.63 L499,1250.68 L497.9,1250.74 L496.8,1250.79 L495.7,1250.83 L494.6,1250.87 L493.5,1250.91 L492.4,1250.94 L491.3,1250.96 L490.2,1250.97 L489.1,1250.97 L488,1250.97 L486.9,1250.95 L485.8,1250.92 L484.7,1250.87 L483.6,1250.8 L482.5,1250.71 L481.4,1250.59 L480.3,1250.44 L479.2,1250.22 L478.1,1249.91 L477,1249 Z" fill="#eee" stroke="#111" stroke-width="1" transform="rotate(-3 499 1249)"/>
<text x="760" y="744.7" font-size="14.3" text-anchor="middle" fill="#1a1a1a" >Wing profiles</text>
<text x="760" y="762.8" font-size="13.2" text-anchor="middle" fill="#1a1a1a" >NACA 23112</text>
<text x="795.5" y="945.9" font-size="31" text-anchor="middle" fill="#111" letter-spacing="1.8" stroke="#fff" stroke-width="0.3">SZD - <tspan font-size="25">2</tspan><tspan font-size="29">o</tspan>X Wampir <tspan font-size="25">2</tspan></text>
<text x="796.9" y="974.5" font-size="17" text-anchor="middle" fill="#1a1a1a" >1959</text>
<text x="819.8" y="1060.5" font-size="13.7" text-anchor="middle" fill="#1a1a1a" letter-spacing="0.25" >Mass empty 175 kg</text>
<text x="819.8" y="1078.7" font-size="13.7" text-anchor="middle" fill="#1a1a1a" letter-spacing="0.25" >In flight 285 kg max</text>
<text x="819.8" y="1096.9" font-size="13.7" text-anchor="middle" fill="#1a1a1a" letter-spacing="0.25" >Wing area 15 sq m</text>
<text x="819.8" y="1115.1" font-size="13.7" text-anchor="middle" fill="#1a1a1a" letter-spacing="0.25" >Aspect ratio 15</text>
<text x="819.8" y="1133.3" font-size="13.7" text-anchor="middle" fill="#1a1a1a" letter-spacing="0.25" >Wing loading 19 kg/sq m</text>
<text x="663" y="1076.6" font-size="14" text-anchor="middle" fill="#1a1a1a" >Slotted</text>
<text x="663" y="1095" font-size="14" text-anchor="middle" fill="#1a1a1a" >ailerons</text>
<text x="492" y="1193.2" font-size="14.5" text-anchor="middle" fill="#1a1a1a" >Tip profile</text>
<text x="492" y="1210.4" font-size="13.5" text-anchor="middle" fill="#1a1a1a" >NACA 23112</text>
<text x="492" y="1229" font-size="14" text-anchor="middle" fill="#1a1a1a" >4 degrees washout</text>
<line x1="619.5" y1="1252" x2="619.5" y2="1258" stroke="#999" stroke-width="0.7" />
<line x1="665" y1="1252" x2="665" y2="1258" stroke="#999" stroke-width="0.7" />
<path d="M619,1250.5 C640,1247 660,1248 682.5,1251 C660,1254 640,1254 619,1252.5 Z" fill="#b58540" stroke="#2b1d0c" stroke-width="1" stroke-linejoin="round" />
<text x="70" y="1266" font-size="13" text-anchor="start" fill="#222" letter-spacing="6" >204</text>
<text x="735" y="1266" font-size="12" text-anchor="start" fill="#555" letter-spacing="3" >Sailplanes 1945-1965</text>
<rect x="988" y="41" width="6" height="1217" fill="#fafbfa"/></svg>
</body></html>
